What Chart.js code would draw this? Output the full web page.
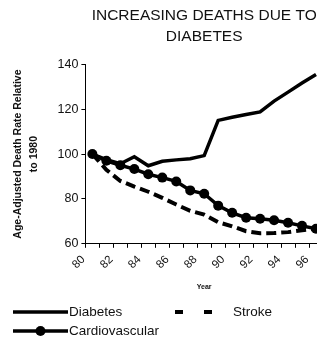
<!DOCTYPE html>
<html>
<head>
<meta charset="utf-8">
<script src="https://cdn.jsdelivr.net/npm/chart.js@4"></script>
<style>
  html, body { margin: 0; padding: 0; background: #fff; overflow: hidden; }
  #wrap { width: 331px; height: 339px; }
</style>
</head>
<body>
<div id="wrap"><canvas id="deaths_chart"></canvas></div>
<script>
// anos (eixo x) e series relativas a 1980
const years          = ['80','81','82','83','84','85','86','87','88','89','90','91','92','93','94','95','96'];
const diabetes       = [100, 97.5, 95.7, 98.8, 94.8, 96.8, 97.4, 97.9, 99.3, 115, 116.4, 117.6, 118.8, 123.6, 127.6, 131.7, 135.5];
const stroke         = [100, 93, 88, 85.5, 83.2, 80.5, 77.5, 74.7, 73, 69.6, 67.8, 65.6, 64.7, 64.8, 65.2, 66, 66.8];
const cardiovascular = [100, 97, 95, 93.3, 91, 89.5, 87.8, 83.8, 82.3, 77, 73.8, 71.6, 71.2, 70.5, 69.4, 68, 66.7];
const yTicks         = [60, 80, 100, 120, 140];

const FONT = 'Arial, "Liberation Sans", sans-serif';
const INK  = '#111';

// legenda desenhada a mao (posicoes como no original)
const legendSlots = [
  { x: 13,  y: 312, w: 55 },   // Diabetes
  { x: 175, y: 312, w: 40, textX: 233 }, // Stroke
  { x: 13,  y: 331, w: 55 }    // Cardiovascular
];

const bottomLegend = {
  id: 'bottomLegend',
  afterDraw(chart) {
    const ctx = chart.ctx;
    ctx.save();
    ctx.font = '13.5px ' + FONT;
    ctx.textBaseline = 'middle';
    chart.data.datasets.forEach((ds, i) => {
      const s = legendSlots[i];
      ctx.strokeStyle = ds.borderColor;
      ctx.lineWidth = ds.borderWidth;
      ctx.setLineDash(ds.legendDash || []);
      ctx.beginPath();
      ctx.moveTo(s.x, s.y);
      ctx.lineTo(s.x + s.w, s.y);
      ctx.stroke();
      ctx.setLineDash([]);
      if (ds.pointRadius > 0) {
        ctx.fillStyle = ds.pointBackgroundColor;
        ctx.beginPath();
        ctx.arc(s.x + s.w / 2, s.y, ds.pointRadius, 0, Math.PI * 2);
        ctx.fill();
      }
      ctx.fillStyle = INK;
      ctx.fillText(ds.label, s.textX || (s.x + s.w + 1), s.y);
    });
    ctx.restore();
  }
};

new Chart(document.getElementById('deaths_chart'), {
  type: 'line',
  data: {
    labels: years,
    datasets: [
      {
        label: 'Diabetes',
        data: diabetes,
        borderColor: '#000',
        borderWidth: 3.5,
        pointRadius: 0,
        tension: 0
      },
      {
        label: 'Stroke',
        data: stroke,
        borderColor: '#000',
        borderWidth: 4,
        borderDash: [10, 5],
        legendDash: [8, 21],
        pointRadius: 0,
        tension: 0
      },
      {
        label: 'Cardiovascular',
        data: cardiovascular,
        borderColor: '#000',
        borderWidth: 3.5,
        pointRadius: 5,
        pointBackgroundColor: '#000',
        pointBorderWidth: 0,
        tension: 0
      }
    ]
  },
  options: {
    responsive: true,
    maintainAspectRatio: false,
    animation: false,
    layout: { padding: { left: 10, right: 2, bottom: 44 } },
    plugins: {
      legend: { display: false },
      tooltip: { enabled: false },
      title: {
        display: true,
        fullSize: false,
        text: ['INCREASING DEATHS DUE TO', 'DIABETES'],
        color: INK,
        font: { family: FONT, size: 15.5, weight: 'normal', lineHeight: 1.3 },
        padding: { top: 6, bottom: 18 }
      }
    },
    scales: {
      x: {
        offset: true,
        border: { color: '#000', width: 1 },
        grid: { offset: true, drawOnChartArea: false, tickLength: 4, color: '#000' },
        ticks: {
          autoSkip: false,
          minRotation: 45,
          maxRotation: 45,
          labelOffset: -9,
          padding: 5,
          color: INK,
          font: { family: FONT, size: 11.5 },
          callback: (val, idx) => idx % 2 === 0 ? years[idx] : ''
        },
        title: {
          display: true,
          text: 'Year',
          color: INK,
          font: { family: FONT, size: 7, weight: 'bold' },
          padding: { top: 6, bottom: 4 }
        }
      },
      y: {
        min: yTicks[0],
        max: yTicks[yTicks.length - 1],
        border: { color: '#000', width: 1 },
        grid: { drawOnChartArea: false, tickLength: 4, color: '#000' },
        afterBuildTicks: axis => { axis.ticks = yTicks.map(v => ({ value: v })); },
        ticks: {
          padding: 3,
          color: INK,
          font: { family: FONT, size: 12.5 }
        },
        title: {
          display: true,
          text: ['Age-Adjusted Death Rate Relative', 'to 1980'],
          color: INK,
          font: { family: FONT, size: 10.5, weight: 'bold', lineHeight: 1.55 },
          padding: { top: 0, bottom: 12 }
        }
      }
    }
  },
  plugins: [bottomLegend]
});
</script>
</body>
</html>
